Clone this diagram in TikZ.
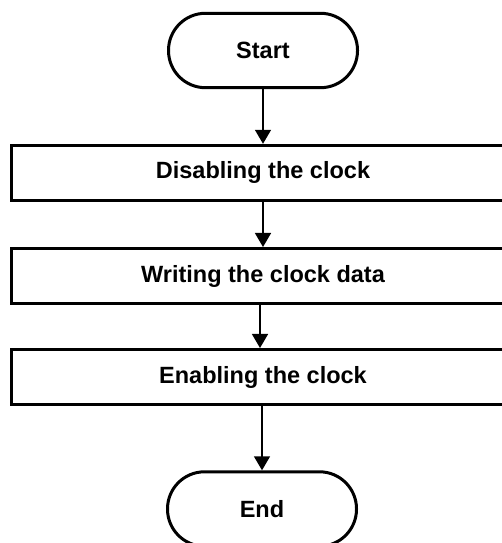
\documentclass[tikz,border=0pt]{standalone}
\usepackage{fontspec}
\setmainfont{Liberation Sans}
\usetikzlibrary{arrows.meta}
\begin{document}
\begin{tikzpicture}[x=1pt,y=1pt,
  txt/.style={font=\bfseries\fontsize{23.5}{28}\selectfont},
  term/.style={txt,draw,line width=3pt,rounded corners=37pt,minimum width=189pt,minimum height=74.4pt,inner sep=0pt},
  proc/.style={txt,draw,line width=3pt,minimum width=503pt,minimum height=55pt,inner sep=0pt},
  flow/.style={-{Triangle[width=16pt,length=14pt]},line width=1.5pt}]
\useasboundingbox (0,0) rectangle (502,543);
\clip (0,0) rectangle (502,543);
\node[term] (start) at (263,492.5) {Start};
\node[proc] (dis) at (263,370.2) {Disabling the clock};
\node[proc] (wri) at (263,267) {Writing the clock data};
\node[proc] (ena) at (263,166) {Enabling the clock};
\node[term] (end) at (262,34) {End};
\draw[flow] (start) -- (dis);
\draw[flow] (dis) -- (wri);
\draw[flow] ([xshift=-3pt]wri.south) -- ([xshift=-3pt]ena.north);
\draw[flow] ([xshift=-1pt]ena.south) -- (end.north);
\end{tikzpicture}
\end{document}
